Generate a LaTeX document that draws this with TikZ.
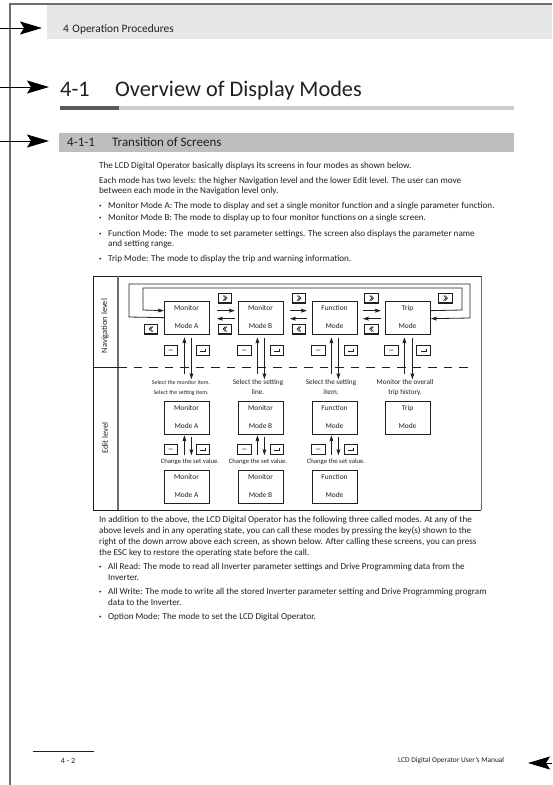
\documentclass[tikz,border=0pt]{standalone}
\usepackage{fontspec}
\setmainfont{Carlito}
\usetikzlibrary{arrows.meta,calc}
\definecolor{ink}{HTML}{231F20}
\definecolor{bandlight}{HTML}{E6E7E8}
\definecolor{bandmid}{HTML}{BCBEC0}
\definecolor{rulelight}{HTML}{CBCCCE}
\definecolor{ruledark}{HTML}{58595B}
\definecolor{frameg}{HTML}{6D6E71}
\tikzset{
  x=1pt,y=-1pt,
  every node/.style={text=ink},
  txt/.style={anchor=base west,inner sep=0pt,font=\fontsize{9.1}{10}\selectfont},
  bul/.style={anchor=base west,inner sep=0pt,font=\fontsize{5}{6}\selectfont},
  captxt/.style={anchor=base,inner sep=0pt,font=\fontsize{7.2}{8}\selectfont},
  capsmall/.style={anchor=base,inner sep=0pt,font=\fontsize{5.9}{6}\selectfont},
  capmid/.style={anchor=base,inner sep=0pt,font=\fontsize{6.7}{7}\selectfont},
  side/.style={rotate=90,inner sep=0pt,font=\fontsize{8.4}{9}\selectfont},
  modebox/.style={draw=ink,line width=.8pt,minimum width=45pt,minimum height=32.5pt,inner sep=0pt,anchor=north west},
  modetxt/.style={anchor=base,inner sep=0pt,font=\fontsize{7.4}{8}\selectfont},
  bigarrow/.style={draw=black,line width=1pt,-{Stealth[length=22pt,width=13pt,inset=4pt]}},
  flow/.style={draw=ink,line width=.8pt,-{Stealth[length=6pt,width=3.8pt,inset=1pt]}},
  keybase/.style={draw=ink,line width=.8pt,minimum width=13.5pt,minimum height=9.5pt,inner sep=0pt,fill=white},
  keyr/.style={keybase,path picture={
    \fill[ink] ($(path picture bounding box.south west)$) rectangle ($(path picture bounding box.south east)+(0,-1.6)$);
    \draw[ink,line width=.7pt] ($(path picture bounding box.center)+(-2,-3)$) -- ($(path picture bounding box.center)+(.5,-.5)$) -- ($(path picture bounding box.center)+(-2,2)$);
    \draw[ink,line width=.7pt] ($(path picture bounding box.center)+(-.5,-3)$) -- ($(path picture bounding box.center)+(2,-.5)$) -- ($(path picture bounding box.center)+(-.5,2)$);}},
  keyl/.style={keybase,path picture={
    \fill[ink] ($(path picture bounding box.south west)$) rectangle ($(path picture bounding box.south east)+(0,-1.6)$);
    \draw[ink,line width=.7pt] ($(path picture bounding box.center)+(2,-3)$) -- ($(path picture bounding box.center)+(-.5,-.5)$) -- ($(path picture bounding box.center)+(2,2)$);
    \draw[ink,line width=.7pt] ($(path picture bounding box.center)+(.5,-3)$) -- ($(path picture bounding box.center)+(-2,-.5)$) -- ($(path picture bounding box.center)+(.5,2)$);}},
  keyesc/.style={keybase,font=\fontsize{2.8}{3}\selectfont},
  keyent/.style={keybase,path picture={
    \draw[ink,line width=.5pt] ($(path picture bounding box.center)+(2.5,-2)$) -- ($(path picture bounding box.center)+(2.5,1)$) -- ($(path picture bounding box.center)+(-3,1)$);}},
}
\begin{document}
\begin{tikzpicture}
\useasboundingbox (0,0) rectangle (552,785);
% page furniture
\fill[white] (0,0) rectangle (552,785);
\node[fill=bandlight,anchor=north west,minimum width=505pt,minimum height=34pt,inner sep=0pt] (hdrband) at (47,4.5) {};
\fill[rulelight] (60,106) rectangle (514,110);
\fill[ruledark] (60,106) rectangle (119,110);
\node[fill=bandmid,anchor=north west,minimum width=455pt,minimum height=19pt,inner sep=0pt] (secband) at (59,133) {};
\draw[frameg,line width=1.2pt] (552,4) -- (10,4) -- (10,785);
% page arrows
\coordinate (a1s) at (0,28); \coordinate (a1e) at (42,28);
\coordinate (a2s) at (0,87); \coordinate (a2e) at (49,87);
\coordinate (a3s) at (0,141); \coordinate (a3e) at (49,141);
\coordinate (a4s) at (552,763); \coordinate (a4e) at (528,763);
\draw[bigarrow] (a1s) -- (a1e);
\draw[bigarrow] (a2s) -- (a2e);
\draw[bigarrow] (a3s) -- (a3e);
\draw[bigarrow] (a4s) -- (a4e);
% headings
\node[txt,font=\fontsize{11.4}{12}\selectfont] (h0) at (63,32) {4\hspace{3.5pt}Operation Procedures};
\node[txt,font=\fontsize{22.3}{24}\selectfont] (h1a) at (60,96) {4-1};
\node[txt,font=\fontsize{22.3}{24}\selectfont] (h1b) at (115,96) {Overview of Display Modes};
\node[txt,font=\fontsize{13}{14}\selectfont] (h2a) at (67,146) {4-1-1};
\node[txt,font=\fontsize{13}{14}\selectfont] (h2b) at (112,146) {Transition of Screens};
% upper text
\node[txt] (t1) at (99,168.5) {The LCD Digital Operator basically displays its screens in four modes as shown below.};
\node[txt] (t2) at (99,183) {Each mode has two levels: the higher Navigation level and the lower Edit level. The user can move};
\node[txt] (t3) at (99,193.5) {between each mode in the Navigation level only.};
\node[bul] (b1) at (99,207.5) {•}; \node[txt] (t4) at (108,208.5) {Monitor Mode A: The mode to display and set a single monitor function and a single parameter function.};
\node[bul] (b2) at (99,219.5) {•}; \node[txt] (t5) at (108,220.5) {Monitor Mode B: The mode to display up to four monitor functions on a single screen.};
\node[bul] (b3) at (99,235.5) {•}; \node[txt] (t6) at (108,236.5) {Function Mode: The \ mode to set parameter settings. The screen also displays the parameter name};
\node[txt] (t7) at (108,246.5) {and setting range.};
\node[bul] (b4) at (99,260.5) {•}; \node[txt] (t8) at (108,261.5) {Trip Mode: The mode to display the trip and warning information.};
% diagram frame
\draw[ink,line width=.8pt] (93,276) -- (481,276);
\draw[frameg,line width=1pt] (481,276) -- (481,510);
\draw[ink,line width=.8pt] (93,510) -- (481,510);
\draw[ink,line width=.8pt] (93,276) -- (93,510);
\draw[frameg,line width=1.2pt] (118,276) -- (118,510);
\draw[ink,line width=.7pt] (93,367) -- (118,367);
\draw[ink,line width=.7pt,dash pattern=on 8.5pt off 7pt] (118,367) -- (474,367);
\node[side] (navl) at (105,326) {Navigation level};
\node[side] (edl) at (105,438) {Edit level};
% navigation boxes
\node[modebox] (ma) at (164,301) {};
\node[modebox] (mb) at (238,301) {};
\node[modebox] (fn) at (312,301) {};
\node[modebox] (tr) at (385,301) {};
\node[modetxt] at (186.5,310) (ma1) {Monitor}; \node[modetxt] at (186.5,328) (ma2) {Mode A};
\node[modetxt] at (260.5,310) (mb1) {Monitor}; \node[modetxt] at (260.5,328) (mb2) {Mode B};
\node[modetxt] at (334.5,310) (fn1) {Function}; \node[modetxt] at (334.5,328) (fn2) {Mode};
\node[modetxt] at (407.5,310) (tr1) {Trip}; \node[modetxt] at (407.5,328) (tr2) {Mode};
% edit row 1
\node[modebox] (ea) at (164,401) {};
\node[modebox] (eb) at (238,401) {};
\node[modebox] (ef) at (312,401) {};
\node[modebox] (et) at (385,401) {};
\node[modetxt] at (186.5,410.5) (ea1) {Monitor}; \node[modetxt] at (186.5,428.5) (ea2) {Mode A};
\node[modetxt] at (260.5,410.5) (eb1) {Monitor}; \node[modetxt] at (260.5,428.5) (eb2) {Mode B};
\node[modetxt] at (334.5,410.5) (ef1) {Function}; \node[modetxt] at (334.5,428.5) (ef2) {Mode};
\node[modetxt] at (407.5,410.5) (et1) {Trip}; \node[modetxt] at (407.5,428.5) (et2) {Mode};
% edit row 2
\node[modebox] (ga) at (164,470) {};
\node[modebox] (gb) at (238,470) {};
\node[modebox] (gf) at (312,470) {};
\node[modetxt] at (186.5,479) (ga1) {Monitor}; \node[modetxt] at (186.5,497) (ga2) {Mode A};
\node[modetxt] at (260.5,479) (gb1) {Monitor}; \node[modetxt] at (260.5,497) (gb2) {Mode B};
\node[modetxt] at (334.5,479) (gf1) {Function}; \node[modetxt] at (334.5,497) (gf2) {Mode};
% horizontal flows
\draw[flow] ($(ma.east)+(7,-7)$) -- ($(mb.west)+(-3,-7)$);
\draw[flow] ($(mb.west)+(-3,1)$) -- ($(ma.east)+(7,1)$);
\draw[flow] ($(mb.east)+(6,-7)$) -- ($(fn.west)+(-5,-7)$);
\draw[flow] ($(fn.west)+(-5,1)$) -- ($(mb.east)+(6,1)$);
\draw[flow] ($(fn.east)+(5,-7)$) -- ($(tr.west)+(-4,-7)$);
\draw[flow] ($(tr.west)+(-4,1)$) -- ($(fn.east)+(5,1)$);
% loops
\coordinate (lo1) at (129,317); \coordinate (lo2) at (129,284); \coordinate (lo3) at (470,284); \coordinate (lo4) at (470,318);
\coordinate (li1) at (462,310); \coordinate (li2) at (462,288); \coordinate (li3) at (143,288); \coordinate (li4) at (143,310);
\draw[flow] (ma.west) -- (lo1) -- (lo2) -- (lo3) -- (lo4) -- ($(tr.east)+(0,1)$);
\draw[flow] ($(tr.east)+(0,-7)$) -- (li1) -- (li2) -- (li3) -- (li4) -- ($(ma.west)+(0,-7)$);
% chevron keys
\node[keyl] (kl0) at (151,329.5) {};
\node[keyr] (kr1) at (225,298.5) {}; \node[keyl] (kl1) at (225,329.5) {};
\node[keyr] (kr2) at (299,298.5) {}; \node[keyl] (kl2) at (299,329.5) {};
\node[keyr] (kr3) at (371.5,298.5) {}; \node[keyl] (kl3) at (371.5,329.5) {};
\node[keyr] (kr4) at (445.5,298.5) {};
% vertical flows nav -> edit
\draw[flow] ($(ma.south)+(-2.5,40)$) -- ($(ma.south)+(-2.5,3)$);
\draw[flow] ($(ma.south)+(4.5,4)$) -- ($(ma.south)+(4.5,45)$);
\draw[flow] ($(mb.south)+(-3.5,40)$) -- ($(mb.south)+(-3.5,3)$);
\draw[flow] ($(mb.south)+(3.5,4)$) -- ($(mb.south)+(3.5,45)$);
\draw[flow] ($(fn.south)+(-3.5,40)$) -- ($(fn.south)+(-3.5,3)$);
\draw[flow] ($(fn.south)+(3.5,4)$) -- ($(fn.south)+(3.5,45)$);
\draw[flow] ($(tr.south)+(-3.5,40)$) -- ($(tr.south)+(-3.5,3)$);
\draw[flow] ($(tr.south)+(4.5,4)$) -- ($(tr.south)+(4.5,45)$);
% keys esc / enter, nav
\node[keyesc] (e1) at (171,350.5) {ESC}; \node[keyent] (n1) at (203,350.5) {};
\node[keyesc] (e2) at (244.5,350.5) {ESC}; \node[keyent] (n2) at (277,350.5) {};
\node[keyesc] (e3) at (318.5,350.5) {ESC}; \node[keyent] (n3) at (351,350.5) {};
\node[keyesc] (e4) at (391.5,350.5) {ESC}; \node[keyent] (n4) at (423.5,350.5) {};
% captions
\node[capsmall] (c1) at (181,384) {Select the monitor item.}; \node[capsmall] (c1b) at (181,394) {Select the setting item.};
\node[captxt] (c2) at (258,384) {Select the setting}; \node[captxt] (c2b) at (258,394) {line.};
\node[captxt] (c3) at (331,384) {Select the setting}; \node[captxt] (c3b) at (331,394) {item.};
\node[captxt] (c4) at (405,384) {Monitor the overall}; \node[captxt] (c4b) at (405,394) {trip history.};
% flows edit 1 <-> edit 2
\draw[flow] ($(ea.south)+(-2.5,21)$) -- ($(ea.south)+(-2.5,1)$);
\draw[flow] ($(ea.south)+(4.5,3)$) -- ($(ea.south)+(4.5,21)$);
\draw[flow] ($(eb.south)+(-3.5,21)$) -- ($(eb.south)+(-3.5,1)$);
\draw[flow] ($(eb.south)+(3.5,3)$) -- ($(eb.south)+(3.5,21)$);
\draw[flow] ($(ef.south)+(-3.5,21)$) -- ($(ef.south)+(-3.5,1)$);
\draw[flow] ($(ef.south)+(3.5,3)$) -- ($(ef.south)+(3.5,21)$);
\node[keyesc] (e5) at (171,449.5) {ESC}; \node[keyent] (n5) at (203,449.5) {};
\node[keyesc] (e6) at (244.5,449.5) {ESC}; \node[keyent] (n6) at (277,449.5) {};
\node[keyesc] (e7) at (318.5,449.5) {ESC}; \node[keyent] (n7) at (351,449.5) {};
\node[capmid] (d1) at (190,463) {Change the set value.};
\node[capmid] (d2) at (258,463) {Change the set value.};
\node[capmid] (d3) at (336,463) {Change the set value.};
% lower text
\node[txt] (u1) at (99,522.5) {In addition to the above, the LCD Digital Operator has the following three called modes. At any of the};
\node[txt] (u2) at (99,533.5) {above levels and in any operating state, you can call these modes by pressing the key(s) shown to the};
\node[txt] (u3) at (99,544.5) {right of the down arrow above each screen, as shown below. After calling these screens, you can press};
\node[txt] (u4) at (99,555.5) {the ESC key to restore the operating state before the call.};
\node[bul] (b5) at (99,568.5) {•}; \node[txt] (u5) at (108,569.5) {All Read: The mode to read all Inverter parameter settings and Drive Programming data from the};
\node[txt] (u6) at (108,580.5) {Inverter.};
\node[bul] (b6) at (99,593.5) {•}; \node[txt] (u7) at (108,594.5) {All Write: The mode to write all the stored Inverter parameter setting and Drive Programming program};
\node[txt] (u8) at (108,605.5) {data to the Inverter.};
\node[bul] (b7) at (99,618.5) {•}; \node[txt] (u9) at (108,619.5) {Option Mode: The mode to set the LCD Digital Operator.};
% footer
\draw[ink,line width=.8pt] (33,751) -- (94,751);
\node[txt,anchor=base,font=\fontsize{8}{9}\selectfont] (pg) at (68,763.5) {4 - 2};
\node[txt,font=\fontsize{7.4}{8}\selectfont] (man) at (398,762.5) {LCD Digital Operator User's Manual};
\end{tikzpicture}
\end{document}
